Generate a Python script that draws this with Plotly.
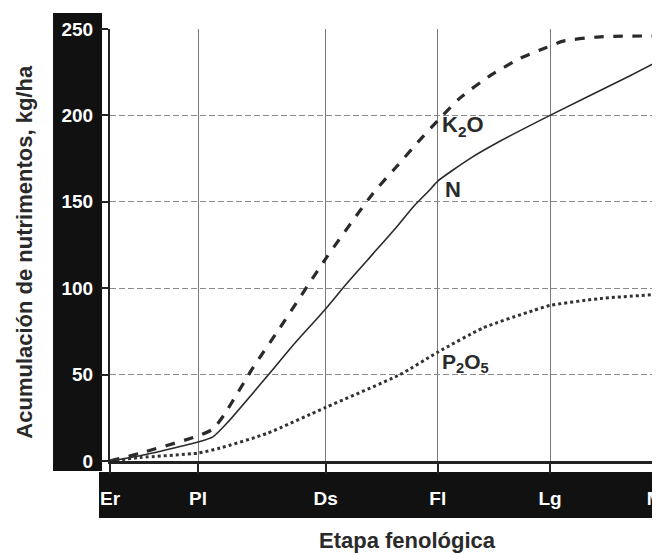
import plotly.graph_objects as go

# Phenological stages (x positions in arbitrary time units)
stage_labels = ["Er", "Pl", "Ds", "Fl", "Lg", "M"]
stage_pos = [0, 20, 49, 74.5, 100, 125]

# K2O accumulation (kg/ha)
k2o_x = [0, 6.8, 20, 23.4, 26, 32.5, 38.6, 49, 59.8, 65, 70.5, 74.5, 79.5, 86.4, 93.2, 98.9, 103, 111.4, 125]
k2o_y = [0, 4.5, 14.5, 18.5, 27, 54, 77, 117, 155, 170, 186, 197, 210, 223, 233, 239, 243, 245.5, 246]

# N accumulation (kg/ha)
n_x = [0, 6.8, 20, 23.4, 26.6, 35.7, 41.6, 49, 53.9, 59.8, 65, 68.9, 72.7, 74.5, 81.8, 88.6, 100, 118.2, 125]
n_y = [0, 3, 11, 14, 22, 49, 67, 88, 103, 120, 135, 147, 157, 162, 175, 185, 200, 223, 232]

# P2O5 accumulation (kg/ha)
p_x = [0, 6.8, 20, 25, 35.7, 49, 65.9, 74.5, 84.8, 96.1, 100, 111.4, 125]
p_y = [0, 2, 4.6, 7.5, 16, 31, 50, 63, 77, 87, 90, 94, 96.5]

y_ticks = [0, 50, 100, 150, 200, 250]

FONT = "Liberation Sans, Arial, sans-serif"

# last label sits on the right edge: pad it so the glyph starts inside the page
tick_text = stage_labels[:-1] + [stage_labels[-1] + "&nbsp;&nbsp;"]

fig = go.Figure()
fig.add_trace(go.Scatter(x=k2o_x, y=k2o_y, mode="lines", name="K2O",
                         line=dict(color="#2a2a2a", width=3.2, dash="dash", shape="spline", smoothing=0.6)))
fig.add_trace(go.Scatter(x=n_x, y=n_y, mode="lines", name="N",
                         line=dict(color="#2a2a2a", width=1.6, shape="spline", smoothing=0.6)))
fig.add_trace(go.Scatter(x=p_x, y=p_y, mode="lines", name="P2O5",
                         line=dict(color="#333333", width=3, dash="dot", shape="spline", smoothing=0.6)))

# Black bands behind tick labels
fig.add_shape(type="rect", xref="paper", yref="paper",
              x0=-0.1036, x1=-0.0145, y0=-0.023, y1=1.037,
              fillcolor="#111111", line=dict(width=0), layer="below")
fig.add_shape(type="rect", xref="paper", yref="paper",
              x0=-0.02, x1=1.0, y0=-0.132, y1=-0.0255,
              fillcolor="#111111", line=dict(width=0), layer="below")

# Curve labels
fig.add_annotation(x=75, y=194, xref="x", yref="y", xanchor="left", yanchor="middle",
                   text="<b>K<sub>2</sub>O</b>", showarrow=False,
                   font=dict(family=FONT, size=22, color="#2a2a2a"))
fig.add_annotation(x=75.7, y=157, xref="x", yref="y", xanchor="left", yanchor="middle",
                   text="<b>N</b>", showarrow=False,
                   font=dict(family=FONT, size=22, color="#2a2a2a"))
fig.add_annotation(x=75, y=57, xref="x", yref="y", xanchor="left", yanchor="middle",
                   text="<b>P<sub>2</sub>O<sub>5</sub></b>", showarrow=False,
                   font=dict(family=FONT, size=21, color="#2a2a2a"))

# Axis titles
fig.add_annotation(x=-0.156, y=0.485, xref="paper", yref="paper", textangle=-90,
                   text="<b>Acumulación de nutrimentos, kg/ha</b>", showarrow=False,
                   xanchor="center", yanchor="middle",
                   font=dict(family=FONT, size=22, color="#2a2a2a"))
fig.add_annotation(x=0.54, y=-0.184, xref="paper", yref="paper",
                   text="<b>Etapa fenológica</b>", showarrow=False,
                   xanchor="center", yanchor="middle",
                   font=dict(family=FONT, size=22, color="#2a2a2a"))

# The page adds an 8px body margin, so the figure is sized 8px smaller
fig.update_layout(
    width=652, height=546,
    margin=dict(l=102, r=0, t=21, b=93),
    paper_bgcolor="white", plot_bgcolor="white",
    showlegend=False,
    font=dict(family=FONT),
)
fig.update_xaxes(
    range=[0, 125], tickvals=stage_pos, ticktext=tick_text,
    showgrid=True, gridcolor="#7a7a7a", gridwidth=1,
    showline=True, linecolor="#222222", linewidth=3,
    ticks="outside", ticklen=10, tickwidth=1.5, tickcolor="#222222",
    tickfont=dict(family=FONT, size=19, color="white", weight="bold"),
    ticklabelstandoff=8, zeroline=False, automargin=False,
    ticklabeloverflow="allow",
)
fig.update_yaxes(
    range=[0, 250], tickvals=y_ticks,
    showgrid=True, gridcolor="#8a8a8a", griddash="6px,3px", gridwidth=1,
    showline=True, linecolor="#222222", linewidth=2,
    ticks="outside", ticklen=8, tickwidth=1.5, tickcolor="#222222",
    tickfont=dict(family=FONT, size=19, color="white", weight="bold"),
    ticklabelstandoff=3, zeroline=False, automargin=False,
)

fig.write_html("out.html")
